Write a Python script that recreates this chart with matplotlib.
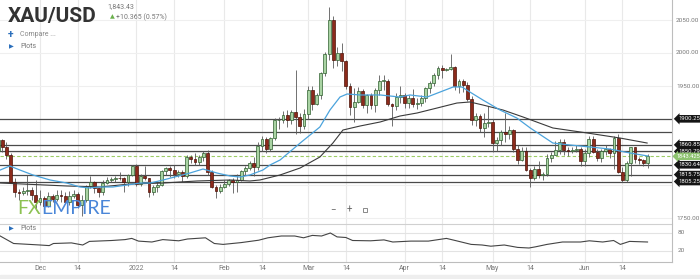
import matplotlib
matplotlib.use('Agg')
import matplotlib.pyplot as plt
import numpy as np
import pandas as pd
from matplotlib.lines import Line2D

# ---------------- data ----------------
dates = pd.bdate_range('2021-11-17', '2022-06-22')

opens = [1851,1868,1858,1845,1805,1790,1788,1791,1792,1785,
         1774,1781,1768,1783,1779,1785,1783,1775,1783,1787,1770,1777,1798,1804,1795,1789,1803,1808,1809,1811,1810,1805,1815,
         1829,1801,1814,1810,1789,1797,1800,1821,1826,1822,1817,1819,1813,1842,1839,1835,1843,1849,1820,1797,1791,
         1797,1801,1807,1805,1808,1821,1826,1833,1827,1859,1870,1855,1871,1898,1899,1906,1898,1910,1903,1889,
         1908,1944,1923,1936,1970,1998,2050,1990,2000,1988,1950,1918,1926,1943,1921,1936,1921,1944,1958,1958,1923,1919,1933,
         1937,1925,1932,1923,1925,1932,1947,1954,1966,1977,1974,1976,1979,1950,1958,1951,1931,1898,1904,1886,1894,
         1896,1863,1868,1881,1877,1883,1854,1838,1852,1822,1811,1824,1815,1816,1841,1846,1853,1865,1853,1851,1853,1855,
         1837,1848,1869,1850,1841,1852,1854,1848,1871,1819,1808,1834,1857,1840,1838,1833]
highs = [1870,1870,1865,1849,1810,1794,1797,1815,1797,1808,
         1792,1784,1790,1787,1793,1792,1790,1791,1792,1789,1785,1800,1814,1806,1796,1807,1812,1812,1814,1820,1812,1817,1831,
         1832,1816,1829,1811,1800,1805,1823,1828,1829,1830,1822,1822,1845,1846,1848,1845,1852,1853,1822,1800,1801,
         1807,1809,1810,1817,1823,1829,1836,1842,1865,1875,1872,1873,1902,1903,1912,1914,1913,1974,1909,1915,
         1950,1950,1940,1971,2002,2070,2056,2009,2015,1990,1955,1947,1949,1945,1938,1940,1947,1966,1966,1960,1925,1939,1950,
         1939,1937,1945,1932,1936,1949,1957,1970,1981,1982,1978,1998,1980,1960,1960,1956,1935,1909,1908,1909,1920,
         1900,1872,1883,1909,1889,1885,1860,1858,1857,1826,1829,1836,1820,1847,1850,1866,1869,1869,1858,1858,1860,1857,
         1855,1874,1874,1854,1855,1860,1856,1875,1878,1827,1837,1858,1858,1842,1840,1847]
lows = [1850,1850,1840,1803,1782,1778,1785,1785,1777,1762,
        1770,1762,1766,1774,1776,1775,1772,1770,1780,1765,1753,1775,1795,1788,1782,1785,1802,1805,1805,1807,1790,1798,1813,
        1799,1799,1807,1782,1785,1790,1798,1815,1812,1811,1812,1805,1810,1834,1831,1830,1836,1815,1795,1780,1788,
        1795,1799,1788,1790,1806,1815,1823,1814,1823,1851,1849,1851,1868,1885,1894,1888,1893,1878,1879,1885,
        1900,1914,1921,1931,1965,1990,1977,1981,1973,1946,1906,1895,1924,1916,1909,1915,1910,1936,1944,1919,1890,1913,1924,
        1916,1916,1918,1915,1920,1926,1940,1950,1961,1962,1972,1974,1944,1940,1941,1927,1891,1890,1881,1872,1888,
        1850,1851,1861,1865,1870,1850,1832,1836,1821,1797,1807,1811,1807,1813,1835,1845,1847,1845,1844,1848,1850,1829,
        1829,1843,1848,1837,1835,1846,1841,1825,1818,1805,1804,1813,1834,1832,1829,1826]
closes = [1868,1858,1845,1805,1790,1788,1791,1792,1785,1774,
          1781,1768,1783,1779,1785,1783,1775,1783,1787,1770,1777,1798,1804,1795,1789,1803,1808,1809,1811,1810,1805,1815,1829,
          1801,1814,1810,1789,1797,1800,1821,1826,1822,1817,1819,1813,1842,1839,1835,1843,1849,1820,1797,1791,1797,
          1801,1807,1805,1808,1821,1826,1833,1827,1859,1870,1855,1871,1898,1899,1906,1898,1910,1903,1889,1908,
          1944,1923,1936,1970,1998,2050,1990,2000,1988,1950,1918,1926,1943,1921,1936,1921,1944,1958,1958,1923,1919,1933,1937,
          1925,1932,1923,1925,1932,1947,1954,1966,1977,1974,1976,1979,1950,1958,1951,1931,1898,1904,1886,1894,1896,
          1863,1868,1881,1877,1883,1854,1838,1852,1822,1811,1824,1815,1816,1841,1846,1853,1865,1853,1851,1853,1855,1837,
          1848,1869,1850,1841,1852,1854,1848,1871,1819,1808,1834,1857,1840,1838,1833.07,1843.43]

# moving averages (candle index, price)
ma_fast_idx = [0.5,2.8,5.2,8.3,12.4,16.4,19.5,21.9,24.3,27.4,30.8,33.9,36.3,39.4,45.8,48.9,50.6,52.2,55.4,57.7,60.1,
               63.2,64.9,67.3,72.1,76.8,79.2,81.6,83.3,86.4,91.2,95.9,98.3,102.4,105.5,108.6,110.7,112.6,115.7,119.8,
               123.8,127.0,132.4,136.5,141.3,146.0,150.8,155.1]
ma_fast_val = [1822.7,1828.8,1822.7,1815.2,1807.6,1803.0,1797.0,1795.5,1797.0,1797.0,1800.0,1803.0,1803.0,1807.6,
               1818.2,1824.2,1821.2,1818.2,1813.6,1812.1,1815.2,1822.7,1830.3,1837.9,1863.6,1887.9,1913.6,1933.3,1937.9,
               1936.4,1936.4,1933.3,1936.4,1933.3,1940.9,1948.5,1948.5,1940.9,1928.8,1913.6,1901.5,1886.4,1863.6,
               1860.6,1857.6,1854.5,1848.5,1843.9]
ma_slow_idx = [0.5,16.4,24.3,31.5,39.4,47.5,55.4,60.1,62.5,67.3,72.1,76.8,79.9,82.3,86.4,91.2,95.9,100.0,104.8,109.5,
               112.6,115.7,120.5,125.3,132.4,140.6,148.4,154.9]
ma_slow_val = [1803.0,1798.5,1797.0,1801.5,1803.0,1806.1,1807.6,1806.1,1807.6,1815.2,1825.8,1842.4,1863.6,1883.3,
               1889.4,1895.5,1904.5,1909.1,1916.7,1924.2,1925.8,1921.2,1913.6,1903.0,1886.4,1878.8,1871.2,1863.6]

# lower study ("Plots")
plot_idx = [0.5,3.7,10,12.2,13.2,17.5,20.2,21.8,27.1,30.3,31.9,33.5,36.7,39.3,43.1,45.2,49.5,51.6,53.7,58,62.2,64.4,
            67.6,70.8,72.9,75,77.2,79.3,80.9,83,84.6,88.9,92.1,94.2,98.5,102.7,107,109.1,112.9,115.5,117.6,120.8,124,
            126.7,128.3,131,134.7,139,141.1,144.3,146.9,148.5,150.7,155]
plot_val = [70,45,40,38,45,47,40,52,55,58,62,53,50,58,54,60,64,45,42,48,56,64,70,70,64,72,70,80,67,65,55,54,57,50,
            53,53,62,55,42,40,36,40,32,30,34,42,50,50,54,50,55,42,52,50]

levels = [1900.25, 1880.0, 1860.85, 1850.79, 1830.64, 1815.75, 1805.25]
level_labels = ['1900.25', None, '1860.85', '1850.79', '1830.64', '1815.75', '1805.25']
last_price = 1843.425
price_ticks = [2050, 2000, 1950, 1750]
price_tick_labels = ['2050.00', '2000.00', '1950.00', '1750.00']
grid_prices = [2050, 2000, 1950, 1900, 1850, 1800, 1750]
date_ticks = ['2021-12-01', '2021-12-14', '2022-01-03', '2022-01-14', '2022-02-01', '2022-02-14', '2022-03-01',
              '2022-03-14', '2022-04-01', '2022-04-14', '2022-05-02', '2022-05-13', '2022-06-01', '2022-06-14']
date_tick_labels = ['Dec', '14', '2022', '14', 'Feb', '14', 'Mar', '14', 'Apr', '14', 'May', '14', 'Jun', '14']

# ---------------- layout ----------------
W, H = 700, 279
fig = plt.figure(figsize=(7, 2.79), dpi=100)
fig.patch.set_facecolor('white')
FONT = ['Roboto', 'DejaVu Sans']

def rect(x0, y0, x1, y1):
    return [x0 / W, 1 - y1 / H, (x1 - x0) / W, (y1 - y0) / H]

def ftext(x, y, s, **kw):
    kw.setdefault('family', FONT)
    return fig.text(x / W, 1 - y / H, s, **kw)

PX = 4.19          # pixels per candle
X_DEC1 = 40        # pixel of first December candle
I_DEC1 = 10        # its index
def idx_px(x):
    return I_DEC1 + (x - X_DEC1) / PX
def px_idx(i):
    return X_DEC1 + (i - I_DEC1) * PX
def py_price(p):
    return 20 + (2050 - p) * 0.66

AX_R = 672
ax = fig.add_axes(rect(0, 0, AX_R, 224))
ax.set_xlim(idx_px(0), idx_px(AX_R))
ax.set_ylim(2050 - (224 - 20) / 0.66, 2050 + 20 / 0.66)
ax.axis('off')

tick_pos = [int(np.searchsorted(dates, pd.Timestamp(d))) for d in date_ticks]

for t in tick_pos:
    ax.axvline(t, color='#e9e9e9', lw=0.8, zorder=0)
for gp in grid_prices:
    ax.axhline(gp, color='#efefef', lw=0.8, zorder=0)

# level lines
for lv in levels:
    ax.axhline(lv, color='#4a4a4a', lw=0.9, zorder=1)
ax.axhline(last_price, color='#9ccc65', lw=0.8, ls=(0, (3, 2)), zorder=1)

# candles
x = np.arange(len(opens))
o = np.array(opens, float); h = np.array(highs, float)
l = np.array(lows, float); c = np.array(closes, float)
up = c >= o
ax.vlines(x, l, h, color='#5a5a5a', lw=0.6, zorder=2)
body = np.maximum(np.abs(c - o), 0.9)
ax.bar(x[up], body[up], bottom=np.minimum(o, c)[up], width=0.68,
       color='#a9d3a3', edgecolor='#2f5f2f', linewidth=0.5, zorder=3)
ax.bar(x[~up], body[~up], bottom=np.minimum(o, c)[~up], width=0.68,
       color='#8c2a1b', edgecolor='#4d1309', linewidth=0.5, zorder=3)

# moving averages
ax.plot(ma_slow_idx, ma_slow_val, color='#3a3a3a', lw=0.8, zorder=4)
ax.plot(ma_fast_idx, ma_fast_val, color='#4ba3dc', lw=0.9, zorder=4)

# lower panel
ax2 = fig.add_axes(rect(0, 224, AX_R, 262))
ax2.set_xlim(idx_px(0), idx_px(AX_R))
top_v = 80 + (233 - 224) * 60 / 18
bot_v = 20 - (262 - 251) * 60 / 18
ax2.set_ylim(bot_v, top_v)
ax2.set_xticks([]); ax2.set_yticks([])
for s in ['left', 'right']:
    ax2.spines[s].set_visible(False)
ax2.spines['top'].set_color('#d0d0d0'); ax2.spines['top'].set_linewidth(0.8)
ax2.spines['bottom'].set_color('#bdbdbd'); ax2.spines['bottom'].set_linewidth(0.8)
for t in tick_pos:
    ax2.axvline(t, color='#e9e9e9', lw=0.8, zorder=0)
for gv in [80, 20]:
    ax2.axhline(gv, color='#e3e3e3', lw=0.8, zorder=0)
ax2.plot(plot_idx, plot_val, color='#444444', lw=0.8, zorder=3)

# right axis line
fig.add_artist(Line2D([AX_R / W, AX_R / W], [1 - 262 / H, 1], color='#bdbdbd', lw=0.8))

# price tick labels
for p, s in zip(price_ticks, price_tick_labels):
    ftext(676, py_price(p), s, fontsize=4.6, color='#777777', va='center', ha='left')
ftext(678, 233, '80', fontsize=4.6, color='#777777', va='center', ha='left')
ftext(678, 251, '20', fontsize=4.6, color='#777777', va='center', ha='left')

# level labels (black tags)
order = [3, 0, 2, 4, 5, 6]
for k in order:
    lab = level_labels[k]
    if lab is None:
        continue
    ftext(678, py_price(levels[k]), lab, fontsize=4.3, color='white', va='center', ha='left',
          bbox=dict(boxstyle='larrow,pad=0.22', fc='#151515', ec='none'))
ftext(676.5, py_price(last_price), '1843.425', fontsize=4.1, color='white', va='center', ha='left',
      bbox=dict(boxstyle='larrow,pad=0.22', fc='#8dc26f', ec='none'))

# date labels
for t, s in zip(tick_pos, date_tick_labels):
    ftext(px_idx(t), 268, s, fontsize=5, color='#777777', va='center', ha='center')

# header
ftext(8, 22, 'XAU/USD', fontsize=15, fontweight='bold', color='#333333', va='baseline', ha='left')
ftext(107, 7, '1,843.43', fontsize=5, color='#777777', va='center', ha='left')
ftext(110, 17, '\u25b2', fontsize=4.5, color='#6ab04c', va='center', ha='left')
ftext(116, 17, '+10.365 (0.57%)', fontsize=5, color='#777777', va='center', ha='left')
ftext(8, 35, '+', fontsize=7.5, color='#2a6ebb', va='center', ha='left', fontweight='bold')
ftext(20, 35, 'Compare ...', fontsize=5, color='#888888', va='center', ha='left')
ftext(9, 47, '\u25b6', fontsize=4.5, color='#2a6ebb', va='center', ha='left')
ftext(20, 47, 'Plots', fontsize=5, color='#777777', va='center', ha='left')
ftext(9, 229, '\u25b6', fontsize=4.5, color='#2a6ebb', va='center', ha='left')
ftext(20, 229, 'Plots', fontsize=5, color='#777777', va='center', ha='left')

# logo
t1 = ftext(17, 214, 'FX', fontsize=14, color='#8cc152', va='baseline', ha='left', family=['Lato', 'DejaVu Sans'])
fig.canvas.draw()
bb = t1.get_window_extent(fig.canvas.get_renderer())
ftext(bb.x1 + 0.5, 214, 'EMPIRE', fontsize=14, color='#4a86d8', va='baseline', ha='left',
      family=['Lato', 'DejaVu Sans'])

# zoom controls
ftext(333, 210, '\u2212', fontsize=7, color='#666666', va='center', ha='center')
ftext(349, 210, '+', fontsize=7, color='#666666', va='center', ha='center')
fig.add_artist(Line2D([365 / W], [1 - 210 / H], marker='s', markersize=3.2, mfc='none', mec='#777777', mew=0.6))

# bottom strip
fig.add_artist(plt.Rectangle((0, 0), 1, 4 / H, color='#eeeeee', transform=fig.transFigure))

fig.savefig('out.png', dpi=100, facecolor='white')
